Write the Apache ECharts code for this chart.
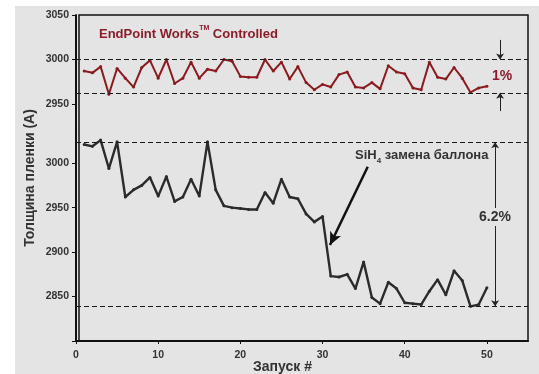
<!DOCTYPE html>
<html>
<head>
<meta charset="utf-8">
<script src="https://cdn.jsdelivr.net/npm/echarts@6/dist/echarts.min.js"></script>
<style>
html,body{margin:0;padding:0;background:#fff;width:539px;height:374px;overflow:hidden;}
#chart{position:absolute;left:15px;top:6px;width:524px;height:368px;background:#e4e4e4;}
</style>
</head>
<body>
<div id="chart"></div>
<script>
const runs = [1,2,3,4,5,6,7,8,9,10,11,12,13,14,15,16,17,18,19,20,21,22,23,24,25,26,27,28,29,30,31,32,33,34,35,36,37,38,39,40,41,42,43,44,45,46,47,48,49,50];
const controlledValues = [2987,2985,2992,2961,2990,2979,2969,2991,2999,2979,
  3000,2973,2979,2997,2979,2989,2987,3000,2998,2981,
  2980,2980,3000,2987,2997,2978,2992,2974,2966,2972,
  2969,2983,2986,2969,2968,2974,2967,2993,2986,2984,
  2968,2966,2997,2980,2978,2991,2979,2963,2968,2970];
const uncontrolledValues = [3021,3019,3026,2994,3024,2962,2970,2975,2984,2963,
  2985,2957,2962,2982,2963,3024,2970,2952,2950,2949,
  2948,2948,2967,2955,2982,2962,2960,2943,2934,2940,
  2873,2872,2875,2859,2889,2849,2842,2866,2859,2843,
  2842,2841,2856,2869,2852,2879,2868,2839,2841,2860];
const xTicks = [0,10,20,30,40,50];
const topYTicks = [2950,3000,3050];
const bottomYTicks = [2800,2850,2900,2950,3000];
const bottomYLabels = [2850,2900,2950,3000];
const topBand = [3000, 2962.5];
const bottomBand = [3023.5, 2839];
const topArrowX = 51.6;
const bandArrowX = 51.0;
const swapArrow = [[35.5, 2996], [30.9, 2908]];

const RED = '#8b1a1f';
const TXT_RED = '#8c1c2a';
const DARK = '#333';
const FONT = '"Liberation Sans", Arial, sans-serif';

const chart = echarts.init(document.getElementById('chart'), null, {renderer:'canvas'});
const toPairs = vals => runs.map((r,i)=>[r, vals[i]]);

const labelStyle = {fontFamily: FONT, fontWeight:'bold', fontSize:10.5, color: DARK, formatter: v => String(v)};
const dashStyle = {color:'#1a1a1a', width:1.2, type:[5,3]};

chart.setOption({
  animation:false,
  grid:[
    {left:61, right:11, top:9, height:121, show:false},
    {left:61, right:11, top:130, bottom:33, show:false},
    {left:61, right:11, top:9, bottom:33, show:true, borderColor:'#111', borderWidth:1.5, backgroundColor:'transparent'}
  ],
  xAxis:[
    {gridIndex:0, type:'value', min:0, max:55, show:false},
    {gridIndex:1, type:'value', min:0, max:55,
      axisLine:{show:true, lineStyle:{color:'#111', width:2}},
      axisTick:{show:true, length:3, customValues:xTicks, lineStyle:{color:'#111'}},
      axisLabel:{show:true, margin:9, customValues:xTicks, ...labelStyle},
      splitLine:{show:false}},
    {gridIndex:2, type:'value', min:0, max:55, show:false}
  ],
  yAxis:[
    {gridIndex:0, type:'value', min:2914, max:3050,
      axisLine:{show:true, lineStyle:{color:'#111', width:2}},
      axisTick:{show:true, length:4, customValues:topYTicks, lineStyle:{color:'#111'}},
      axisLabel:{show:true, margin:7, customValues:topYTicks, ...labelStyle},
      splitLine:{show:false}},
    {gridIndex:1, type:'value', min:2800, max:3030.6,
      axisLine:{show:true, lineStyle:{color:'#111', width:2}},
      axisTick:{show:true, length:4, customValues:bottomYTicks, lineStyle:{color:'#111'}},
      axisLabel:{show:true, margin:7, customValues:bottomYLabels, ...labelStyle},
      splitLine:{show:false}},
    {gridIndex:2, type:'value', min:0, max:1,
      name:'Толщина пленки (А)', nameLocation:'middle', nameGap:42,
      nameTextStyle:{fontFamily:FONT, fontWeight:'bold', fontSize:14, color:DARK},
      axisLine:{show:false}, axisTick:{show:false}, axisLabel:{show:false}, splitLine:{show:false}}
  ],
  title:[
    {text:'{m|EndPoint Works}{tm|TM}{m| Controlled}', left:84, top:19, padding:0,
      textStyle:{rich:{
        m:{fontFamily:FONT, fontWeight:'bold', fontSize:13, lineHeight:18, color:TXT_RED},
        tm:{fontFamily:FONT, fontWeight:'bold', fontSize:7, lineHeight:10, verticalAlign:'top', color:TXT_RED}
      }}},
    {text:'1%', left:477, top:63, padding:0,
      textStyle:{fontFamily:FONT, fontWeight:'bold', fontSize:14, color:TXT_RED}},
    {text:'6.2%', left:464, top:202, padding:[2,0,2,0], backgroundColor:'#e4e4e4',
      textStyle:{fontFamily:FONT, fontWeight:'bold', fontSize:14, color:DARK}},
    {text:'{m|SiH}{s|4}{m| замена баллона}', left:340, top:139, padding:0,
      textStyle:{rich:{
        m:{fontFamily:FONT, fontWeight:'bold', fontSize:13, lineHeight:20, color:DARK},
        s:{fontFamily:FONT, fontWeight:'bold', fontSize:8, lineHeight:10, verticalAlign:'bottom', color:DARK}
      }}},
    {text:'Запуск #', left:238, top:354, padding:0,
      textStyle:{fontFamily:FONT, fontWeight:'bold', fontSize:14, color:DARK}}
  ],
  series:[
    {type:'line', xAxisIndex:0, yAxisIndex:0, data:toPairs(controlledValues),
      symbol:'circle', symbolSize:3, lineStyle:{color:RED, width:2}, itemStyle:{color:RED},
      markLine:{silent:true, symbol:['none','none'], label:{show:false}, lineStyle:dashStyle,
        data: topBand.map(v=>({yAxis:v}))}},
    {type:'line', xAxisIndex:1, yAxisIndex:1, data:toPairs(uncontrolledValues),
      symbol:'circle', symbolSize:3, lineStyle:{color:'#2b2b2b', width:2.4}, itemStyle:{color:'#2b2b2b'},
      markLine:{silent:true, symbol:['none','none'], label:{show:false}, lineStyle:dashStyle,
        data: bottomBand.map(v=>({yAxis:v}))}},
    {type:'line', xAxisIndex:0, yAxisIndex:0, data:[],
      markLine:{silent:true, symbol:['none','arrow'], symbolSize:6, label:{show:false},
        lineStyle:{color:'#222', width:1, type:'solid'},
        data:[
          [{coord:[topArrowX, 3022]}, {coord:[topArrowX, topBand[0]]}],
          [{coord:[topArrowX, 2942]}, {coord:[topArrowX, topBand[1]]}]
        ]}},
    {type:'line', xAxisIndex:1, yAxisIndex:1, data:[],
      markLine:{silent:true, symbol:['arrow','arrow'], symbolSize:6, label:{show:false},
        lineStyle:{color:'#222', width:1, type:'solid'},
        data:[[{coord:[bandArrowX, bottomBand[0]]}, {coord:[bandArrowX, bottomBand[1]]}]]}},
    {type:'line', xAxisIndex:1, yAxisIndex:1, data:[],
      markLine:{silent:true, symbol:['none','arrow'], symbolSize:[9,13], label:{show:false},
        lineStyle:{color:'#111', width:2.5, type:'solid'},
        data:[[{coord:swapArrow[0]}, {coord:swapArrow[1]}]]}}
  ]
});
</script>
</body>
</html>
